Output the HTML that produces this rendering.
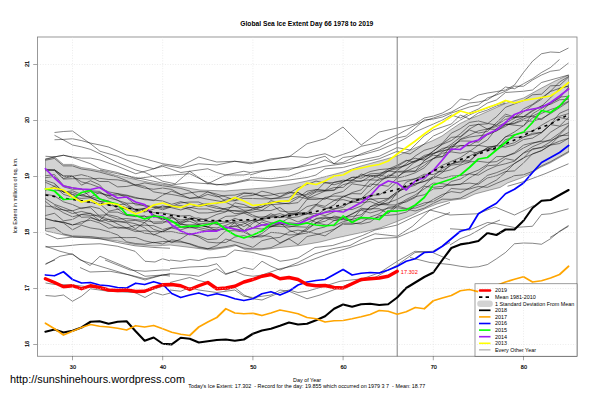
<!DOCTYPE html>
<html><head><meta charset="utf-8"><title>Global Sea Ice Extent</title>
<style>html,body{margin:0;padding:0;background:#fff}body{width:601px;height:400px;overflow:hidden}</style></head>
<body>
<svg width="601" height="400" viewBox="0 0 601 400" style="display:block">
<rect width="601" height="400" fill="#fff"/>
<clipPath id="c"><rect x="37.5" y="37.0" width="539.5" height="319.25"/></clipPath>
<polygon points="45.50,158.75 54.50,156.90 63.50,164.40 72.50,164.40 81.50,167.50 90.50,168.75 99.60,170.60 108.60,173.10 115.00,175.00 126.60,177.50 150.00,182.50 175.00,186.00 200.00,190.00 225.00,191.00 250.00,189.00 270.00,187.50 295.00,183.50 316.00,179.00 343.00,172.00 361.00,166.00 379.00,161.00 397.00,156.00 415.00,148.00 433.00,140.50 442.00,136.00 451.00,129.50 460.00,123.50 469.40,119.00 478.40,115.50 487.40,111.50 496.40,107.50 505.40,103.50 523.50,98.00 541.50,88.00 555.00,81.00 568.60,75.00 568.60,152.50 550.00,163.00 540.00,167.50 530.00,174.00 522.50,177.50 507.50,183.00 500.00,187.50 490.00,190.00 475.00,194.00 465.00,198.50 450.00,200.50 437.50,203.75 425.00,208.75 412.50,215.00 397.00,221.50 380.00,228.00 364.00,232.00 350.00,235.00 336.00,238.00 320.00,242.00 300.00,245.50 280.00,247.50 260.00,250.00 246.00,250.00 236.00,245.50 230.00,247.00 210.00,250.00 190.00,247.40 170.00,245.00 155.00,246.00 135.00,244.50 117.50,241.00 90.00,237.50 72.50,237.00 55.00,233.00 45.50,231.00" fill="#d3d3d3" stroke="#000" stroke-opacity="0.75" stroke-width="0.45"/>
<g clip-path="url(#c)" fill="none" stroke="#000" stroke-width="0.5" stroke-opacity="0.95" stroke-linejoin="round">
<polyline points="54.50,132.50 63.50,131.50 72.50,131.00 81.50,137.50 90.50,143.75 100.00,151.25"/>
<polyline points="54.50,135.25 63.50,140.00 72.50,145.00 81.50,146.90 90.50,149.40 100.00,153.75"/>
<polyline points="54.50,139.75 63.50,139.40 72.50,138.75 81.50,140.60 90.50,143.10 100.00,145.00"/>
<polyline points="45.50,156.25 54.50,156.90 63.50,155.25 72.50,156.90 81.50,158.10 90.50,158.10 100.00,160.00"/>
<polyline points="45.50,159.40 54.50,156.90 63.50,155.25 72.50,157.50 81.50,160.60 90.50,163.75 100.00,168.75"/>
<polyline points="100.00,145.00 108.50,147.00 126.50,155.00 135.75,156.25 153.75,161.25 162.75,163.75 180.75,166.25 198.75,157.00 216.75,162.00 234.75,161.25 250.00,162.50"/>
<polyline points="100.00,151.25 117.50,156.25 135.75,163.75 153.75,168.75 162.75,165.00 180.75,168.00 198.75,163.75 216.75,165.00 234.75,161.25 250.00,163.75"/>
<polyline points="100.00,153.75 117.50,162.50 135.75,170.00 145.00,172.50 162.75,181.25 175.00,183.75 189.75,171.25 207.75,168.75 216.75,172.50 225.75,175.00 243.75,171.25 250.00,172.50"/>
<polyline points="100.00,160.00 117.50,166.25 135.75,173.75 145.00,171.25 162.75,166.25 180.75,172.50 189.75,171.25 198.75,177.50 207.75,183.75 225.75,175.00 243.75,175.00 250.00,173.75"/>
<polyline points="100.00,168.75 117.50,172.50 135.75,178.75 153.75,176.25 171.75,175.00 189.75,173.75 207.75,182.50 216.75,185.00 234.75,182.50 250.00,178.75"/>
<polyline points="100.00,170.00 117.50,173.75 135.75,177.50 153.75,181.25 171.75,185.00 189.75,182.50 207.75,183.75 225.75,185.00 243.75,181.25 250.00,180.00"/>
<polyline points="250.00,162.50 262.00,161.25 271.00,158.75 289.00,157.00 307.00,143.75 325.00,138.75 343.00,127.00 361.25,145.00 379.25,132.00 397.25,128.00"/>
<polyline points="250.00,163.75 271.00,160.00 289.00,156.25 307.00,157.50 325.00,153.75 334.00,157.50 352.25,151.25 361.25,146.25 379.25,142.50 397.25,135.00"/>
<polyline points="250.00,172.50 271.00,169.50 289.00,170.00 307.00,163.75 316.00,158.75 325.00,156.25 334.00,163.75 343.00,162.50 361.25,153.75 379.25,147.50 397.25,137.50"/>
<polyline points="250.00,175.00 262.50,171.25 280.00,168.75 298.00,167.50 316.00,163.75 325.00,160.00 334.00,163.75 343.00,157.50 361.25,155.00 379.25,150.00 397.25,142.50"/>
<polyline points="250.00,177.50 271.00,178.75 289.00,176.25 307.00,170.00 325.00,166.25 343.00,163.75 361.25,160.00 379.25,156.25 397.25,147.50"/>
<polyline points="250.00,180.00 271.00,181.25 289.00,180.00 307.00,177.50 316.00,175.00 325.00,168.75 343.00,167.50 361.25,162.50 379.25,158.75 397.25,151.25"/>
<polyline points="397.20,128.00 406.20,126.00 415.20,124.00 424.20,118.00 433.40,116.00 442.40,113.00 451.40,108.00 460.40,99.00 469.40,100.00 478.40,95.00 487.40,93.00 496.40,91.60 505.40,90.00"/>
<polyline points="397.20,135.00 406.20,130.00 415.20,125.00 424.20,121.00 433.40,118.00 442.40,115.00 451.40,112.00 460.40,107.00 469.40,103.00 478.40,102.00 487.40,100.00 496.40,94.00 505.40,87.00"/>
<polyline points="397.20,138.00 406.20,136.00 415.20,128.00 424.20,120.00 433.40,119.00 442.40,117.00 451.40,113.00 460.40,110.00 469.40,107.00 478.40,105.00 487.40,98.00 496.40,95.00 505.40,91.20"/>
<polyline points="397.20,142.60 406.20,138.00 415.20,132.00 424.20,128.00 433.40,124.00 442.40,120.00 451.40,115.00 460.40,118.00 469.40,113.00 478.40,109.00 487.40,103.00 496.40,100.00 505.40,92.60"/>
<polyline points="397.20,147.60 410.00,150.00 424.20,136.00 433.40,130.00 442.40,127.00 451.40,124.00 460.40,115.00 469.40,119.00 478.40,113.00 487.40,110.00 496.40,106.00 505.40,103.00"/>
<polyline points="397.20,151.20 410.00,154.00 424.20,144.00 433.40,136.00 442.40,132.00 451.40,126.00 460.40,120.00 469.40,115.00 478.40,111.00 487.40,108.00 496.40,104.40 505.40,101.60"/>
<polyline points="505.50,90.00 514.50,85.00 523.50,72.50 532.50,61.25 541.50,53.75 550.50,52.00 559.50,52.50 568.50,48.00"/>
<polyline points="505.50,87.00 514.50,88.75 523.50,83.75 532.50,78.75 541.50,72.50 550.50,67.50 559.50,59.50"/>
<polyline points="505.50,91.25 514.50,86.25 523.50,86.25 532.50,80.00 541.50,75.00 550.50,71.25 559.50,70.00 568.50,63.00"/>
<polyline points="505.50,92.50 523.50,91.25 532.50,90.00 541.50,82.50 550.50,80.00 559.50,77.50 568.50,75.00"/>
<polyline points="45.50,233.75 57.50,238.75 72.50,237.00 100.00,238.75 117.50,242.50 135.00,245.75 155.00,247.50 170.00,248.25"/>
<polyline points="45.50,246.25 60.00,251.25 72.50,254.50 90.00,265.50 100.00,256.25 115.00,262.50 130.00,268.75 145.00,276.25 162.50,275.00 170.00,276.07"/>
<polyline points="45.50,247.00 62.50,246.25 80.00,244.50 100.00,243.75 117.50,246.25 135.00,251.25 145.00,261.25 155.00,262.00 162.50,258.75 170.00,260.89"/>
<polyline points="45.50,264.50 60.00,256.25 72.50,253.75 80.00,260.00 100.00,266.25 125.00,273.75 145.00,280.00 162.50,275.00 170.00,273.93"/>
<polyline points="45.50,283.00 55.00,284.50 72.50,285.00 90.50,287.00 108.50,289.50 126.50,290.00 144.75,292.00 162.75,286.25 170.00,285.72"/>
<polyline points="45.50,295.50 55.00,296.25 63.50,295.00 72.50,301.25 81.50,296.25 90.50,288.75 108.50,291.25 135.00,292.50 145.00,297.50 153.75,292.50 162.75,295.00 170.00,293.11"/>
<polyline points="45.50,263.75 55.00,260.00"/>
<polyline points="80.00,267.50 90.00,272.00 110.00,271.25 130.00,275.00 145.00,278.75 162.50,275.00 170.00,273.93"/>
<polyline points="105.00,260.00 130.00,270.00 145.00,271.25 162.50,270.00 170.00,270.00"/>
<polyline points="170.00,260.00 180.75,261.25 189.75,259.50 198.75,260.50 207.75,258.00 216.75,257.50 225.75,256.25 234.75,250.00 244.00,251.25 253.00,252.50 262.00,255.00 271.00,257.00 280.00,261.25 289.00,260.00 298.00,258.00"/>
<polyline points="170.00,268.75 189.75,267.00 207.75,266.25 216.75,263.75 225.75,273.75 234.75,271.25 244.00,267.50 253.00,269.50 262.00,261.25 271.00,266.25 280.00,270.00 289.00,266.25 298.00,262.50"/>
<polyline points="170.00,273.75 189.75,275.00 198.75,276.25 216.75,268.75 225.75,274.50 234.75,271.25 244.00,275.00 253.00,276.25 262.00,275.00 280.00,268.75 298.00,265.00"/>
<polyline points="170.00,282.50 189.75,277.50 198.75,280.50 207.75,282.50 216.75,287.50 225.75,290.00 234.75,287.50 244.00,295.00 253.00,298.75 262.00,300.00 271.00,296.25 280.00,292.50 289.00,290.00 298.00,292.50 307.00,291.25 320.00,287.50"/>
<polyline points="170.00,290.00 180.75,291.25 189.75,287.50 198.75,290.00 216.75,292.50 234.75,290.00 244.00,296.25 253.00,297.50 271.00,295.00 280.00,290.00 289.00,291.25 298.00,295.00 307.00,298.75 320.00,295.00"/>
<polyline points="298.00,258.00 315.00,247.50 332.50,245.50 350.00,240.00 362.50,235.50 375.00,230.00 397.25,225.00 412.50,217.50 430.00,210.00 450.00,202.50"/>
<polyline points="298.00,262.50 315.00,253.75 332.50,248.75 350.00,245.50 362.50,238.75 375.00,233.75 397.25,236.25 412.50,226.25 430.00,210.00 450.00,215.00"/>
<polyline points="298.00,265.00 325.00,255.00 350.00,247.50 375.00,238.75 397.25,237.50 415.00,230.00 432.50,220.00 450.00,212.50"/>
<polyline points="320.00,287.50 340.00,281.25 362.50,278.75 380.00,272.50 397.25,261.25 415.00,251.25 432.50,252.50 450.00,260.00"/>
<polyline points="320.00,295.00 350.00,283.75 375.00,277.50 397.25,265.00 415.00,252.50 432.50,251.25 450.00,242.50"/>
<polyline points="450.00,215.00 477.50,213.75 495.00,207.00 514.50,215.00 525.00,210.00 533.75,205.50"/>
<polyline points="507.50,186.25 525.00,181.25 545.00,173.75 568.50,163.75"/>
<polyline points="450.00,228.75 469.50,230.00 487.50,222.50 496.50,223.75 514.50,227.50 532.50,226.25 541.50,214.50 550.50,213.75 568.50,208.75"/>
<polyline points="550.00,237.50 568.50,226.25"/>
<polyline points="410.00,257.50 430.00,262.50 450.00,264.50 460.25,266.25 469.50,267.50 478.50,266.75 487.50,264.50 496.50,258.75 505.50,252.50 514.50,243.75 523.50,243.00 532.50,243.25 541.50,244.25 550.50,238.75 559.50,231.25 568.50,225.50"/>
<polyline points="450.00,245.00 460.00,238.75 470.00,235.00 487.50,225.00 500.00,220.00"/>
<polyline points="45.44,169.63 54.46,170.56 63.48,179.05 72.50,178.70 81.52,178.68 90.54,178.93 99.56,178.29 108.58,179.49 117.60,179.85 126.62,181.63 135.64,185.58 144.66,188.12 153.68,189.28 162.70,188.06 171.72,189.44 180.74,194.42 189.76,198.36 198.78,196.86 207.80,191.81 216.82,195.72 225.84,201.17 234.86,200.72 243.88,198.40 252.90,198.51 261.92,198.86 270.94,198.84 279.96,197.18 288.98,193.21 298.00,187.75 307.02,184.48 316.04,181.07 325.06,183.02 334.08,182.45 343.10,181.09 352.12,179.91 361.14,181.61 370.16,176.16 379.18,174.84 388.20,169.17 397.22,165.21 406.24,160.29 415.26,162.23 424.28,157.29 433.30,151.22 442.32,143.92 451.34,137.35 460.36,136.58 469.38,129.05 478.40,124.06 487.42,129.15 496.44,126.48 505.46,122.95 514.48,118.25 523.50,112.03 532.52,105.08 541.54,99.16 550.56,91.15 559.58,81.93 568.60,76.50"/>
<polyline points="45.44,160.25 54.46,158.41 63.48,165.88 72.50,165.90 81.52,169.00 90.54,170.26 99.56,172.09 108.58,174.59 117.60,177.06 126.62,180.65 135.64,185.23 144.66,182.86 153.68,184.52 162.70,185.78 171.72,187.04 180.74,188.42 189.76,191.09 198.78,197.43 207.80,199.24 216.82,200.72 225.84,202.36 234.86,206.29 243.88,207.30 252.90,207.46 261.92,207.41 270.94,200.67 279.96,203.10 288.98,203.81 298.00,202.67 307.02,193.54 316.04,189.79 325.06,190.37 334.08,182.27 343.10,180.16 352.12,180.99 361.14,173.98 370.16,176.80 379.18,175.25 388.20,171.09 397.22,168.49 406.24,165.43 415.26,160.45 424.28,158.75 433.30,151.17 442.32,144.36 451.34,140.62 460.36,133.79 469.38,125.70 478.40,124.45 487.42,123.83 496.44,116.76 505.46,107.34 514.48,103.94 523.50,100.63 532.52,94.77 541.54,94.18 550.56,85.83 559.58,85.44 568.60,77.07"/>
<polyline points="45.44,169.30 54.46,169.79 63.48,176.25 72.50,176.59 81.52,181.86 90.54,184.13 99.56,187.43 108.58,191.87 117.60,193.58 126.62,195.08 135.64,197.42 144.66,199.73 153.68,200.09 162.70,201.03 171.72,204.32 180.74,201.63 189.76,204.02 198.78,206.61 207.80,204.67 216.82,206.58 225.84,209.68 234.86,211.06 243.88,212.17 252.90,208.98 261.92,204.88 270.94,202.53 279.96,201.87 288.98,200.42 298.00,196.56 307.02,198.84 316.04,194.88 325.06,191.05 334.08,190.36 343.10,184.67 352.12,182.39 361.14,180.66 370.16,179.71 379.18,175.43 388.20,176.72 397.22,170.49 406.24,163.65 415.26,155.99 424.28,150.29 433.30,147.63 442.32,143.31 451.34,133.18 460.36,128.71 469.38,122.44 478.40,120.95 487.42,123.34 496.44,125.11 505.46,119.34 514.48,117.70 523.50,108.90 532.52,104.36 541.54,97.76 550.56,91.46 559.58,88.27 568.60,86.23"/>
<polyline points="45.44,177.73 54.46,176.37 63.48,186.82 72.50,189.29 81.52,189.08 90.54,197.02 99.56,192.42 108.58,195.65 117.60,194.99 126.62,195.71 135.64,198.22 144.66,198.84 153.68,200.60 162.70,195.20 171.72,191.07 180.74,194.58 189.76,192.90 198.78,191.59 207.80,191.81 216.82,194.15 225.84,196.87 234.86,200.31 243.88,196.21 252.90,195.44 261.92,191.20 270.94,193.26 279.96,196.65 288.98,191.72 298.00,194.77 307.02,194.92 316.04,191.25 325.06,182.24 334.08,184.80 343.10,182.01 352.12,177.35 361.14,176.22 370.16,175.30 379.18,177.47 388.20,171.12 397.22,172.04 406.24,172.14 415.26,171.41 424.28,165.34 433.30,158.25 442.32,156.74 451.34,150.77 460.36,145.71 469.38,145.62 478.40,140.19 487.42,128.96 496.44,125.05 505.46,116.34 514.48,117.61 523.50,116.57 532.52,110.32 541.54,105.84 550.56,104.29 559.58,99.79 568.60,99.19"/>
<polyline points="45.44,170.73 54.46,170.01 63.48,178.42 72.50,176.34 81.52,174.66 90.54,177.14 99.56,181.50 108.58,181.55 117.60,186.89 126.62,186.45 135.64,184.67 144.66,186.39 153.68,191.87 162.70,193.31 171.72,194.49 180.74,196.16 189.76,198.22 198.78,197.95 207.80,194.33 216.82,196.79 225.84,195.41 234.86,195.08 243.88,192.81 252.90,194.10 261.92,195.72 270.94,195.07 279.96,193.24 288.98,192.93 298.00,192.37 307.02,197.31 316.04,192.01 325.06,190.74 334.08,189.85 343.10,181.76 352.12,177.15 361.14,178.27 370.16,173.88 379.18,173.30 388.20,170.98 397.22,166.53 406.24,160.96 415.26,158.22 424.28,160.22 433.30,155.14 442.32,156.66 451.34,145.61 460.36,141.00 469.38,141.07 478.40,142.11 487.42,134.59 496.44,130.69 505.46,126.40 514.48,120.82 523.50,117.21 532.52,111.20 541.54,106.19 550.56,97.88 559.58,88.25 568.60,85.84"/>
<polyline points="54.46,169.73 63.48,175.93 72.50,175.73 81.52,185.15 90.54,180.74 99.56,184.87 108.58,195.02 117.60,193.61 126.62,197.63 135.64,204.91 144.66,204.92 153.68,207.18 162.70,209.79 171.72,206.70 180.74,207.37 189.76,209.41 198.78,212.98 207.80,212.92 216.82,211.84 225.84,208.25 234.86,206.47 243.88,210.22 252.90,210.20 261.92,206.88 270.94,203.74 279.96,211.04 288.98,212.03 298.00,210.86 307.02,199.45 316.04,199.45 325.06,198.15 334.08,200.06 343.10,197.29 352.12,192.55 361.14,189.85 370.16,179.91 379.18,180.24 388.20,177.49 397.22,171.51 406.24,170.95 415.26,171.02 424.28,160.63 433.30,153.83 442.32,149.95 451.34,144.18 460.36,137.23 469.38,129.94 478.40,133.07 487.42,131.40 496.44,122.65 505.46,114.18 514.48,116.91 523.50,116.50 532.52,116.09 541.54,111.68 550.56,102.73 559.58,98.29 568.60,87.00"/>
<polyline points="45.44,180.50 54.46,183.40 63.48,191.99 72.50,192.57 81.52,195.90 90.54,196.87 99.56,198.80 108.58,201.01 117.60,204.81 126.62,203.91 135.64,209.95 144.66,209.05 153.68,212.67 162.70,212.88 171.72,214.43 180.74,216.03 189.76,215.50 198.78,219.86 207.80,218.48 216.82,214.38 225.84,211.97 234.86,202.78 243.88,204.62 252.90,208.62 261.92,210.41 270.94,204.71 279.96,204.02 288.98,203.23 298.00,198.03 307.02,191.16 316.04,189.58 325.06,190.44 334.08,187.55 343.10,187.43 352.12,179.98 361.14,175.56 370.16,171.55 379.18,169.61 388.20,168.81 397.22,167.62 406.24,165.03 415.26,161.25 424.28,155.44 433.30,153.24 442.32,150.83 451.34,149.13 460.36,139.14 469.38,135.21 478.40,130.87 487.42,129.03 496.44,129.42 505.46,124.49 514.48,123.02 523.50,118.81 532.52,116.00 541.54,119.64 550.56,112.56 559.58,105.77 568.60,101.19"/>
<polyline points="54.46,184.20 63.48,191.97 72.50,194.75 81.52,195.41 90.54,191.54 99.56,193.24 108.58,195.77 117.60,200.39 126.62,203.20 135.64,203.42 144.66,206.07 153.68,207.29 162.70,206.91 171.72,206.32 180.74,205.53 189.76,207.97 198.78,204.98 207.80,203.44 216.82,203.67 225.84,199.27 234.86,197.98 243.88,193.31 252.90,193.11 261.92,196.46 270.94,198.82 279.96,198.26 288.98,197.16 298.00,192.47 307.02,197.91 316.04,198.05 325.06,199.26 334.08,193.90 343.10,191.45 352.12,183.83 361.14,185.15 370.16,186.53 379.18,178.76 388.20,177.33 397.22,177.69 406.24,169.25 415.26,161.53 424.28,156.86 433.30,153.96 442.32,148.41 451.34,146.65 460.36,145.69 469.38,145.72 478.40,145.34 487.42,146.82 496.44,146.30 505.46,136.97 514.48,131.93 523.50,125.64 532.52,117.98 541.54,113.38 550.56,109.54 559.58,106.74 568.60,97.41"/>
<polyline points="45.44,175.79 54.46,174.55 63.48,185.51 72.50,187.63 81.52,189.19 90.54,190.81 99.56,191.36 108.58,197.96 117.60,200.26 126.62,205.76 135.64,209.34 144.66,208.37 153.68,205.82 162.70,208.39 171.72,206.36 180.74,202.89 189.76,202.02 198.78,202.03 207.80,206.20 216.82,208.34 225.84,208.94 234.86,213.70 243.88,213.02 252.90,216.88 261.92,217.02 270.94,215.73 279.96,213.57 288.98,216.70 298.00,212.87 307.02,206.56 316.04,204.42 325.06,206.37 334.08,200.59 343.10,199.60 352.12,201.92 361.14,202.86 370.16,201.51 379.18,205.11 388.20,199.59 397.22,193.69 406.24,182.15 415.26,178.72 424.28,176.78 433.30,170.75 442.32,165.28 451.34,161.37 460.36,157.68 469.38,151.55 478.40,145.19 487.42,139.94 496.44,128.40 505.46,123.92 514.48,125.23 523.50,126.07 532.52,113.75 541.54,108.47 550.56,103.53 559.58,97.14 568.60,96.20"/>
<polyline points="45.44,182.30 54.46,186.29 63.48,192.10 72.50,190.77 81.52,194.43 90.54,197.72 99.56,201.70 108.58,201.24 117.60,208.90 126.62,215.21 135.64,215.73 144.66,216.85 153.68,215.82 162.70,220.08 171.72,217.31 180.74,220.03 189.76,219.03 198.78,217.86 207.80,220.91 216.82,224.34 225.84,222.61 234.86,218.33 243.88,221.46 252.90,220.44 261.92,220.07 270.94,222.75 279.96,223.06 288.98,218.07 298.00,222.03 307.02,217.55 316.04,215.77 325.06,209.17 334.08,205.00 343.10,196.07 352.12,198.59 361.14,198.70 370.16,190.63 379.18,182.69 388.20,175.04 397.22,176.62 406.24,171.28 415.26,167.30 424.28,162.52 433.30,158.72 442.32,151.72 451.34,147.59 460.36,139.57 469.38,137.07 478.40,135.81 487.42,134.65 496.44,131.06 505.46,124.99 514.48,123.62 523.50,120.22 532.52,121.27 541.54,118.58 550.56,113.60 559.58,107.70 568.60,101.73"/>
<polyline points="45.44,194.20 54.46,195.91 63.48,201.84 72.50,204.54 81.52,208.59 90.54,206.35 99.56,208.53 108.58,216.00 117.60,219.10 126.62,218.56 135.64,219.67 144.66,220.54 153.68,222.05 162.70,221.83 171.72,222.10 180.74,222.35 189.76,221.31 198.78,224.76 207.80,227.06 216.82,221.00 225.84,216.33 234.86,215.94 243.88,212.87 252.90,212.01 261.92,210.66 270.94,210.51 279.96,207.48 288.98,213.94 298.00,213.49 307.02,212.49 316.04,204.67 325.06,197.44 334.08,196.01 343.10,196.37 352.12,193.58 361.14,193.92 370.16,183.95 379.18,185.07 388.20,186.26 397.22,178.19 406.24,175.96 415.26,172.79 424.28,167.82 433.30,158.90 442.32,153.24 451.34,151.91 460.36,153.18 469.38,150.93 478.40,153.66 487.42,147.97 496.44,150.39 505.46,139.64 514.48,137.50 523.50,136.80 532.52,134.53 541.54,132.28 550.56,124.37 559.58,113.30 568.60,109.39"/>
<polyline points="54.46,189.97 63.48,191.34 72.50,194.12 81.52,201.26 90.54,202.48 99.56,203.69 108.58,211.21 117.60,209.28 126.62,207.57 135.64,210.10 144.66,212.09 153.68,209.10 162.70,205.82 171.72,207.77 180.74,209.96 189.76,207.37 198.78,208.96 207.80,208.97 216.82,211.35 225.84,211.28 234.86,210.53 243.88,211.07 252.90,215.09 261.92,218.95 270.94,216.38 279.96,217.50 288.98,213.55 298.00,212.68 307.02,213.48 316.04,216.14 325.06,211.95 334.08,209.07 343.10,207.34 352.12,200.26 361.14,198.75 370.16,195.20 379.18,195.05 388.20,189.44 397.22,181.77 406.24,180.24 415.26,178.81 424.28,174.26 433.30,174.52 442.32,170.54 451.34,165.16 460.36,164.00 469.38,156.14 478.40,151.65 487.42,149.55 496.44,149.79 505.46,145.16 514.48,142.71 523.50,137.25 532.52,133.24 541.54,132.54 550.56,124.61 559.58,126.07 568.60,117.31"/>
<polyline points="45.44,190.44 54.46,186.30 63.48,194.38 72.50,197.13 81.52,198.41 90.54,197.79 99.56,201.16 108.58,204.99 117.60,206.62 126.62,209.69 135.64,211.94 144.66,208.36 153.68,214.75 162.70,219.11 171.72,215.97 180.74,224.60 189.76,224.83 198.78,224.60 207.80,226.94 216.82,230.86 225.84,227.10 234.86,229.60 243.88,230.82 252.90,227.89 261.92,229.07 270.94,226.50 279.96,226.46 288.98,227.14 298.00,225.00 307.02,218.07 316.04,222.53 325.06,224.81 334.08,225.88 343.10,221.65 352.12,219.48 361.14,216.86 370.16,206.80 379.18,202.26 388.20,198.67 397.22,191.76 406.24,187.99 415.26,185.19 424.28,179.19 433.30,170.61 442.32,171.90 451.34,169.70 460.36,165.20 469.38,162.21 478.40,152.31 487.42,149.35 496.44,145.70 505.46,147.22 514.48,144.80 523.50,139.55 532.52,138.11 541.54,132.82 550.56,124.56 559.58,117.44 568.60,119.59"/>
<polyline points="45.44,198.62 54.46,204.36 63.48,207.53 72.50,211.04 81.52,217.25 90.54,216.93 99.56,221.17 108.58,219.34 117.60,220.99 126.62,222.02 135.64,223.75 144.66,227.87 153.68,235.06 162.70,230.99 171.72,228.08 180.74,229.89 189.76,226.88 198.78,229.36 207.80,231.41 216.82,229.33 225.84,229.51 234.86,222.51 243.88,226.59 252.90,221.72 261.92,219.59 270.94,217.54 279.96,215.76 288.98,217.87 298.00,216.80 307.02,213.70 316.04,213.51 325.06,215.62 334.08,211.90 343.10,209.58 352.12,209.55 361.14,206.05 370.16,198.17 379.18,202.64 388.20,204.33 397.22,192.44 406.24,187.27 415.26,183.64 424.28,181.50 433.30,178.51 442.32,172.55 451.34,164.13 460.36,160.85 469.38,160.59 478.40,153.44 487.42,147.62 496.44,145.54 505.46,136.74 514.48,134.87 523.50,132.54 532.52,131.13 541.54,125.26 550.56,120.05 559.58,116.24 568.60,113.55"/>
<polyline points="45.44,206.07 54.46,207.12 63.48,212.77 72.50,216.79 81.52,214.38 90.54,213.26 99.56,217.18 108.58,221.60 117.60,221.59 126.62,222.84 135.64,228.80 144.66,222.48 153.68,215.13 162.70,218.83 171.72,221.16 180.74,224.23 189.76,219.23 198.78,221.41 207.80,221.74 216.82,221.02 225.84,221.84 234.86,223.17 243.88,231.18 252.90,223.11 261.92,218.61 270.94,213.69 279.96,217.78 288.98,214.41 298.00,214.39 307.02,214.29 316.04,205.49 325.06,208.10 334.08,209.02 343.10,205.51 352.12,202.22 361.14,199.55 370.16,199.52 379.18,198.55 388.20,198.37 397.22,191.92 406.24,186.46 415.26,183.99 424.28,181.43 433.30,176.60 442.32,178.37 451.34,176.01 460.36,175.70 469.38,173.86 478.40,175.14 487.42,169.90 496.44,165.96 505.46,163.76 514.48,161.23 523.50,152.90 532.52,146.72 541.54,143.01 550.56,139.46 559.58,133.12 568.60,125.23"/>
<polyline points="45.44,201.41 54.46,208.71 63.48,209.80 72.50,213.60 81.52,211.44 90.54,213.61 99.56,220.41 108.58,212.11 117.60,212.13 126.62,215.44 135.64,216.65 144.66,215.69 153.68,223.56 162.70,223.12 171.72,217.80 180.74,222.01 189.76,218.01 198.78,223.81 207.80,223.23 216.82,224.04 225.84,227.68 234.86,226.43 243.88,223.82 252.90,219.91 261.92,224.90 270.94,227.02 279.96,223.72 288.98,226.12 298.00,226.79 307.02,227.20 316.04,218.49 325.06,216.75 334.08,218.42 343.10,219.03 352.12,219.45 361.14,209.37 370.16,208.74 379.18,208.69 388.20,213.57 397.22,206.20 406.24,200.87 415.26,196.71 424.28,194.77 433.30,188.88 442.32,188.43 451.34,181.46 460.36,179.07 469.38,173.59 478.40,170.12 487.42,164.52 496.44,156.63 505.46,156.38 514.48,153.50 523.50,148.03 532.52,143.54 541.54,140.64 550.56,132.24 559.58,126.65 568.60,123.20"/>
<polyline points="54.46,205.30 63.48,210.13 72.50,210.88 81.52,207.76 90.54,207.72 99.56,216.18 108.58,219.38 117.60,224.01 126.62,228.15 135.64,225.15 144.66,225.21 153.68,225.70 162.70,229.52 171.72,227.06 180.74,227.39 189.76,227.77 198.78,227.45 207.80,229.40 216.82,230.58 225.84,228.15 234.86,225.60 243.88,229.98 252.90,236.78 261.92,236.95 270.94,232.39 279.96,233.05 288.98,235.05 298.00,234.48 307.02,233.00 316.04,229.11 325.06,226.92 334.08,220.51 343.10,219.62 352.12,221.08 361.14,218.61 370.16,219.19 379.18,217.15 388.20,212.38 397.22,203.57 406.24,201.99 415.26,197.53 424.28,186.31 433.30,187.35 442.32,186.33 451.34,185.09 460.36,184.46 469.38,178.00 478.40,172.82 487.42,165.81 496.44,164.93 505.46,158.63 514.48,160.36 523.50,153.13 532.52,149.60 541.54,147.23 550.56,141.80 559.58,134.79 568.60,125.94"/>
<polyline points="45.44,218.46 54.46,221.18 63.48,222.45 72.50,224.68 81.52,223.85 90.54,217.81 99.56,220.51 108.58,223.75 117.60,228.24 126.62,227.62 135.64,229.91 144.66,233.12 153.68,234.34 162.70,237.74 171.72,242.72 180.74,239.04 189.76,233.19 198.78,237.05 207.80,242.08 216.82,242.86 225.84,242.46 234.86,236.95 243.88,235.67 252.90,238.02 261.92,233.60 270.94,226.51 279.96,222.78 288.98,230.09 298.00,233.87 307.02,228.29 316.04,223.21 325.06,221.24 334.08,216.06 343.10,217.78 352.12,214.37 361.14,208.15 370.16,209.95 379.18,205.21 388.20,202.71 397.22,199.37 406.24,194.50 415.26,191.70 424.28,185.45 433.30,176.78 442.32,168.36 451.34,163.78 460.36,161.94 469.38,161.90 478.40,161.31 487.42,162.38 496.44,161.61 505.46,156.54 514.48,152.68 523.50,145.07 532.52,142.79 541.54,141.44 550.56,140.68 559.58,136.72 568.60,132.55"/>
<polyline points="45.44,218.82 54.46,220.99 63.48,222.06 72.50,225.14 81.52,221.73 90.54,220.21 99.56,222.94 108.58,228.23 117.60,227.03 126.62,228.48 135.64,231.65 144.66,230.71 153.68,231.67 162.70,231.93 171.72,227.19 180.74,223.69 189.76,226.35 198.78,225.15 207.80,227.10 216.82,227.94 225.84,225.27 234.86,221.66 243.88,222.56 252.90,228.17 261.92,221.87 270.94,225.24 279.96,224.94 288.98,222.68 298.00,223.71 307.02,222.71 316.04,219.12 325.06,218.05 334.08,217.38 343.10,217.66 352.12,216.54 361.14,214.80 370.16,206.75 379.18,204.45 388.20,204.91 397.22,204.95 406.24,199.53 415.26,194.88 424.28,188.85 433.30,183.08 442.32,183.72 451.34,185.10 460.36,184.02 469.38,183.08 478.40,184.30 487.42,177.98 496.44,175.75 505.46,171.55 514.48,170.89 523.50,162.99 532.52,153.80 541.54,150.52 550.56,144.82 559.58,141.20 568.60,138.33"/>
<polyline points="45.44,215.55 54.46,213.27 63.48,220.81 72.50,219.45 81.52,214.59 90.54,215.38 99.56,215.20 108.58,214.80 117.60,216.79 126.62,221.03 135.64,220.39 144.66,222.67 153.68,229.41 162.70,231.92 171.72,231.63 180.74,233.41 189.76,234.45 198.78,235.92 207.80,239.60 216.82,238.84 225.84,230.78 234.86,230.78 243.88,232.15 252.90,236.62 261.92,235.68 270.94,236.47 279.96,242.95 288.98,238.50 298.00,234.56 307.02,229.90 316.04,222.84 325.06,218.06 334.08,220.30 343.10,218.86 352.12,213.59 361.14,210.09 370.16,212.98 379.18,210.53 388.20,208.27 397.22,207.72 406.24,209.15 415.26,210.97 424.28,208.11 433.30,203.36 442.32,199.15 451.34,199.32 460.36,198.12 469.38,193.36 478.40,188.88 487.42,184.72 496.44,180.06 505.46,172.47 514.48,163.52 523.50,158.21 532.52,148.70 541.54,147.66 550.56,144.78 559.58,135.67 568.60,135.25"/>
<polyline points="54.46,220.30 63.48,222.99 72.50,229.79 81.52,225.29 90.54,227.96 99.56,229.27 108.58,231.66 117.60,234.93 126.62,241.82 135.64,243.55 144.66,244.22 153.68,242.32 162.70,244.06 171.72,239.83 180.74,241.17 189.76,244.14 198.78,247.54 207.80,248.71 216.82,247.98 225.84,246.62 234.86,244.78 243.88,248.05 252.90,249.00 261.92,248.76 270.94,247.63 279.96,243.48 288.98,238.85 298.00,244.70 307.02,236.50 316.04,234.75 325.06,232.09 334.08,229.21 343.10,224.31 352.12,224.25 361.14,222.37 370.16,217.07 379.18,213.88 388.20,207.32 397.22,206.08 406.24,208.43 415.26,208.13 424.28,205.00 433.30,199.34 442.32,194.53 451.34,191.60 460.36,192.85 469.38,188.09 478.40,182.91 487.42,175.40 496.44,172.69 505.46,168.96 514.48,163.44 523.50,157.78 532.52,154.12 541.54,150.73 550.56,145.12 559.58,143.54 568.60,138.34"/>
<polyline points="45.44,228.61 54.46,227.64 63.48,233.94 72.50,236.00 81.52,236.26 90.54,236.57 99.56,237.72 108.58,238.14 117.60,237.46 126.62,237.62 135.64,237.50 144.66,240.82 153.68,242.74 162.70,241.44 171.72,241.70 180.74,242.10 189.76,243.61 198.78,246.63 207.80,248.71 216.82,245.60 225.84,239.05 234.86,241.77 243.88,244.12 252.90,247.37 261.92,240.72 270.94,238.44 279.96,237.32 288.98,231.93 298.00,230.13 307.02,231.70 316.04,233.58 325.06,235.93 334.08,229.80 343.10,223.09 352.12,223.07 361.14,223.96 370.16,221.99 379.18,215.49 388.20,215.28 397.22,214.49 406.24,212.10 415.26,206.24 424.28,202.84 433.30,201.54 442.32,196.42 451.34,188.46 460.36,189.22 469.38,189.06 478.40,186.44 487.42,187.34 496.44,183.38 505.46,179.63 514.48,175.66 523.50,174.80 532.52,171.36 541.54,165.81 550.56,161.68 559.58,156.59 568.60,151.50"/>
</g>
<line x1="397.22" y1="37.0" x2="397.22" y2="356.25" stroke="#8c8c8c" stroke-width="1.1"/>
<polyline points="45.44,331.75 54.46,329.50 63.48,332.50 72.50,330.75 81.52,327.50 90.54,321.75 99.56,321.25 108.58,323.75 117.60,321.75 126.62,321.25 135.64,331.25 144.66,340.75 153.68,337.50 162.70,343.75 171.72,344.40 180.74,337.75 189.76,338.75 198.78,342.50 207.80,341.25 216.82,340.00 225.84,339.50 234.86,340.75 243.88,339.50 252.90,333.75 261.92,330.50 270.94,328.75 279.96,325.75 288.98,322.50 298.00,324.50 307.02,323.75 316.04,320.25 325.06,316.25 334.08,308.75 343.10,304.50 352.12,306.75 361.14,304.25 370.16,303.75 379.18,305.00 388.20,304.25 397.22,297.50 406.24,288.00 415.26,282.50 424.28,277.00 433.30,272.50 442.32,260.00 451.34,248.00 460.36,244.40 469.38,243.00 478.40,241.00 487.42,233.00 496.44,235.00 505.46,229.50 514.48,229.50 523.50,220.75 532.52,208.00 541.54,200.75 550.56,200.00 559.58,195.00 568.60,190.00" fill="none" stroke="#000" stroke-width="2.1" stroke-linejoin="round" stroke-linecap="round"/>
<polyline points="45.44,323.25 54.46,328.75 63.48,335.00 72.50,331.25 81.52,327.50 90.54,324.50 99.56,326.25 108.58,327.00 117.60,328.25 126.62,330.00 135.64,325.75 144.66,327.00 153.68,325.50 162.70,328.75 171.72,332.25 180.74,334.25 189.76,335.50 198.78,327.00 207.80,322.00 216.82,317.50 225.84,308.75 234.86,313.00 243.88,313.75 252.90,313.25 261.92,315.50 270.94,313.00 279.96,310.00 288.98,311.75 298.00,313.75 307.02,317.50 316.04,318.75 325.06,322.00 334.08,320.75 343.10,320.50 352.12,318.75 361.14,316.75 370.16,314.50 379.18,310.50 388.20,311.25 397.22,314.25 406.24,311.75 415.26,307.50 424.28,308.75 433.30,300.75 442.32,298.00 451.34,295.50 460.36,290.75 469.38,289.50 478.40,291.75 487.42,288.75 496.44,285.50 505.46,282.00 514.48,279.25 523.50,276.75 532.52,282.00 541.54,280.75 550.56,278.00 559.58,274.50 568.60,266.25" fill="none" stroke="#ffa500" stroke-width="1.75" stroke-linejoin="round" stroke-linecap="round"/>
<polyline points="45.44,275.00 54.46,275.75 63.48,271.75 72.50,279.50 81.52,283.00 90.54,282.50 99.56,285.00 108.58,285.75 117.60,287.50 126.62,288.00 135.64,283.25 144.66,284.50 153.68,281.75 162.70,284.25 171.72,293.50 180.74,297.50 189.76,295.00 198.78,293.00 207.80,295.75 216.82,293.75 225.84,295.75 234.86,298.75 243.88,300.50 252.90,298.75 261.92,293.75 270.94,291.75 279.96,295.00 288.98,291.25 298.00,285.00 307.02,282.00 316.04,280.50 325.06,279.50 334.08,274.50 343.10,269.50 352.12,275.00 361.14,273.25 370.16,272.50 379.18,273.00 388.20,270.00 397.22,266.25 406.24,261.25 415.26,258.75 424.28,252.50 433.30,252.00 442.32,246.25 451.34,238.75 460.36,231.25 469.38,228.75 478.40,213.75 487.42,208.25 496.44,203.25 505.46,193.75 514.48,189.25 523.50,183.00 532.52,172.50 541.54,162.50 550.56,157.50 559.58,152.50 568.60,145.50" fill="none" stroke="#0000ff" stroke-width="1.75" stroke-linejoin="round" stroke-linecap="round"/>
<polyline points="45.44,168.75 54.46,178.00 63.48,186.00 72.50,188.00 81.52,189.00 90.54,189.50 99.56,187.50 108.58,193.00 117.60,198.00 126.62,197.00 135.64,202.00 144.66,204.50 153.68,217.00 162.70,216.00 171.72,225.00 180.74,231.00 189.76,234.50 198.78,232.50 207.80,231.00 216.82,231.00 225.84,227.00 234.86,229.00 243.88,231.00 252.90,228.00 261.92,225.00 270.94,224.00 279.96,222.50 288.98,224.50 298.00,224.00 307.02,220.00 316.04,215.00 325.06,212.50 334.08,211.00 343.10,212.00 352.12,207.50 361.14,202.50 370.16,196.00 379.18,186.00 388.20,181.00 397.22,183.00 406.24,190.00 415.26,181.00 424.28,177.50 433.30,170.50 442.32,160.00 451.34,149.00 460.36,149.50 469.38,142.50 478.40,140.00 487.42,134.00 496.44,130.00 505.46,122.50 514.48,114.50 523.50,111.00 532.52,109.00 541.54,107.50 550.56,102.50 559.58,96.00 568.60,89.00" fill="none" stroke="#a020f0" stroke-width="1.75" stroke-linejoin="round" stroke-linecap="round"/>
<polyline points="45.44,195.00 54.46,196.50 63.48,198.00 72.50,199.50 81.52,200.83 90.54,202.17 99.56,203.50 108.58,205.00 117.60,206.50 126.62,208.00 135.64,209.50 144.66,211.00 153.68,212.50 162.70,214.00 171.72,215.50 180.74,216.50 189.76,218.25 198.78,220.00 207.80,220.33 216.82,220.67 225.84,221.00 234.86,220.50 243.88,220.00 252.90,219.50 261.92,218.67 270.94,217.83 279.96,217.00 288.98,215.75 298.00,214.50 307.02,213.00 316.04,211.50 325.06,209.17 334.08,206.83 343.10,204.50 352.12,201.67 361.14,198.83 370.16,196.00 379.18,193.83 388.20,191.67 397.22,189.50 406.24,186.00 415.26,181.50 424.28,176.25 433.30,171.00 442.32,167.00 451.34,163.00 460.36,159.50 469.38,156.75 478.40,154.00 487.42,150.75 496.44,147.50 505.46,143.75 514.48,140.00 523.50,135.50 532.52,131.00 541.54,127.50 550.56,124.00 559.58,119.25 568.60,114.50" fill="none" stroke="#000" stroke-width="1.6" stroke-dasharray="3.0 4.0"/>
<polyline points="45.44,189.00 54.46,191.00 63.48,199.50 72.50,199.00 81.52,192.50 90.54,190.50 99.56,199.00 108.58,202.00 117.60,204.00 126.62,214.50 135.64,215.50 144.66,219.00 153.68,216.00 162.70,217.00 171.72,221.00 180.74,227.00 189.76,226.00 198.78,226.00 207.80,224.50 216.82,222.50 225.84,229.50 234.86,235.00 243.88,238.00 252.90,235.00 261.92,231.00 270.94,224.00 279.96,220.50 288.98,224.00 298.00,225.00 307.02,223.00 316.04,225.00 325.06,226.00 334.08,225.00 343.10,216.00 352.12,222.50 361.14,217.50 370.16,218.00 379.18,219.50 388.20,211.00 397.22,211.00 406.24,210.00 415.26,205.00 424.28,197.50 433.30,185.00 442.32,182.00 451.34,179.00 460.36,175.00 469.38,167.50 478.40,159.00 487.42,157.50 496.44,150.00 505.46,142.50 514.48,135.00 523.50,132.00 532.52,122.50 541.54,110.50 550.56,112.50 559.58,106.00 568.60,96.00" fill="none" stroke="#00ff00" stroke-width="1.75" stroke-linejoin="round" stroke-linecap="round"/>
<polyline points="45.44,189.00 54.46,188.00 63.48,190.00 72.50,197.00 81.52,202.00 90.54,200.00 99.56,205.00 108.58,203.00 117.60,204.50 126.62,209.00 135.64,214.00 144.66,210.50 153.68,205.00 162.70,203.00 171.72,206.00 180.74,207.50 189.76,204.00 198.78,206.00 207.80,204.00 216.82,203.00 225.84,202.00 234.86,197.50 243.88,201.00 252.90,205.50 261.92,204.50 270.94,203.00 279.96,201.00 288.98,201.00 298.00,190.00 307.02,183.00 316.04,184.50 325.06,181.00 334.08,176.00 343.10,175.00 352.12,170.00 361.14,168.00 370.16,166.00 379.18,164.50 388.20,161.00 397.22,154.00 406.24,147.50 415.26,141.00 424.28,134.00 433.30,127.50 442.32,122.50 451.34,116.50 460.36,111.00 469.38,113.50 478.40,111.00 487.42,107.50 496.44,104.50 505.46,100.50 514.48,103.00 523.50,100.50 532.52,99.00 541.54,97.50 550.56,96.00 559.58,90.00 568.60,82.50" fill="none" stroke="#ffff00" stroke-width="1.75" stroke-linejoin="round" stroke-linecap="round"/>
<polyline points="45.44,278.75 54.46,282.50 63.48,286.75 72.50,285.75 81.52,288.75 90.54,285.75 99.56,287.50 108.58,290.00 117.60,290.50 126.62,290.00 135.64,291.50 144.66,291.25 153.68,287.75 162.70,284.75 171.72,284.50 180.74,285.75 189.76,289.50 198.78,285.75 207.80,282.50 216.82,288.75 225.84,288.00 234.86,286.25 243.88,282.00 252.90,279.50 261.92,276.25 270.94,274.50 279.96,278.75 288.98,277.50 298.00,279.50 307.02,284.50 316.04,285.75 325.06,285.50 334.08,287.50 343.10,288.00 352.12,283.75 361.14,279.50 370.16,278.75 379.18,278.00 388.20,276.25 397.22,271.25" fill="none" stroke="#ff0000" stroke-width="3.4" stroke-linejoin="round" stroke-linecap="round"/>
<rect x="37.5" y="37.0" width="539.5" height="319.25" fill="none" stroke="#000" stroke-opacity="0.5" stroke-width="0.8"/>
<g stroke="#000" stroke-opacity="0.5" stroke-width="0.7"><line x1="72.50" y1="356.25" x2="72.50" y2="360.25"/><line x1="162.70" y1="356.25" x2="162.70" y2="360.25"/><line x1="252.90" y1="356.25" x2="252.90" y2="360.25"/><line x1="343.10" y1="356.25" x2="343.10" y2="360.25"/><line x1="433.30" y1="356.25" x2="433.30" y2="360.25"/><line x1="523.50" y1="356.25" x2="523.50" y2="360.25"/><line x1="37.5" y1="344.50" x2="33.2" y2="344.50"/><line x1="37.5" y1="288.50" x2="33.2" y2="288.50"/><line x1="37.5" y1="232.50" x2="33.2" y2="232.50"/><line x1="37.5" y1="176.50" x2="33.2" y2="176.50"/><line x1="37.5" y1="120.50" x2="33.2" y2="120.50"/><line x1="37.5" y1="64.50" x2="33.2" y2="64.50"/></g>
<text x="72.90" y="368.6" font-family="Liberation Sans, Arial, sans-serif" font-size="5.5" text-anchor="middle" fill="#000" stroke="#000" stroke-width="0.18">30</text>
<text x="163.10" y="368.6" font-family="Liberation Sans, Arial, sans-serif" font-size="5.5" text-anchor="middle" fill="#000" stroke="#000" stroke-width="0.18">40</text>
<text x="253.30" y="368.6" font-family="Liberation Sans, Arial, sans-serif" font-size="5.5" text-anchor="middle" fill="#000" stroke="#000" stroke-width="0.18">50</text>
<text x="343.50" y="368.6" font-family="Liberation Sans, Arial, sans-serif" font-size="5.5" text-anchor="middle" fill="#000" stroke="#000" stroke-width="0.18">60</text>
<text x="433.70" y="368.6" font-family="Liberation Sans, Arial, sans-serif" font-size="5.5" text-anchor="middle" fill="#000" stroke="#000" stroke-width="0.18">70</text>
<text x="523.90" y="368.6" font-family="Liberation Sans, Arial, sans-serif" font-size="5.5" text-anchor="middle" fill="#000" stroke="#000" stroke-width="0.18">80</text>
<text transform="translate(29.3,343.90) rotate(-90)" font-family="Liberation Sans, Arial, sans-serif" font-size="5.7" text-anchor="middle" fill="#000" stroke="#000" stroke-width="0.18">16</text>
<text transform="translate(29.3,287.90) rotate(-90)" font-family="Liberation Sans, Arial, sans-serif" font-size="5.7" text-anchor="middle" fill="#000" stroke="#000" stroke-width="0.18">17</text>
<text transform="translate(29.3,231.90) rotate(-90)" font-family="Liberation Sans, Arial, sans-serif" font-size="5.7" text-anchor="middle" fill="#000" stroke="#000" stroke-width="0.18">18</text>
<text transform="translate(29.3,175.90) rotate(-90)" font-family="Liberation Sans, Arial, sans-serif" font-size="5.7" text-anchor="middle" fill="#000" stroke="#000" stroke-width="0.18">19</text>
<text transform="translate(29.3,119.90) rotate(-90)" font-family="Liberation Sans, Arial, sans-serif" font-size="5.7" text-anchor="middle" fill="#000" stroke="#000" stroke-width="0.18">20</text>
<text transform="translate(29.3,63.90) rotate(-90)" font-family="Liberation Sans, Arial, sans-serif" font-size="5.7" text-anchor="middle" fill="#000" stroke="#000" stroke-width="0.18">21</text>
<text x="306.8" y="26.4" font-family="Liberation Sans, Arial, sans-serif" font-size="6.7" font-weight="bold" text-anchor="middle" fill="#000">Global Sea Ice Extent Day 66 1978 to 2019</text>
<text x="307" y="381.9" font-family="Liberation Sans, Arial, sans-serif" font-size="5.4" text-anchor="middle" fill="#000">Day of Year</text>
<text x="306.8" y="388.4" font-family="Liberation Sans, Arial, sans-serif" font-size="5.4" text-anchor="middle" fill="#000" style="white-space:pre">Today's Ice Extent: 17.302  - Record for the day: 19.855 which occurred on 1979 3 7  - Mean: 18.77</text>
<text transform="translate(16.5,195.5) rotate(-90)" font-family="Liberation Sans, Arial, sans-serif" font-size="5.55" text-anchor="middle" fill="#000">Ice Extent in millions of sq. km.</text>
<text x="10" y="382.6" font-family="Liberation Sans, Arial, sans-serif" font-size="10.4" textLength="175" lengthAdjust="spacingAndGlyphs" fill="#000">http://sunshinehours.wordpress.com</text>
<text x="400.8" y="273.7" font-family="Liberation Sans, Arial, sans-serif" font-size="5.55" fill="#ff0000">17.302</text>
<rect x="475.0" y="283.75" width="102.0" height="72.5" fill="#fff" stroke="#000" stroke-opacity="0.55" stroke-width="0.7"/>
<line x1="480.0" y1="290.50" x2="490.0" y2="290.50" stroke="#ff0000" stroke-width="2.5" stroke-linecap="round"/>
<text x="495" y="292.40" font-family="Liberation Sans, Arial, sans-serif" font-size="5.39" fill="#000">2019</text>
<line x1="479.0" y1="297.10" x2="490.5" y2="297.10" stroke="#000" stroke-width="1.6" stroke-linecap="butt" stroke-dasharray="3.4 3.2"/>
<text x="495" y="299.00" font-family="Liberation Sans, Arial, sans-serif" font-size="5.39" fill="#000">Mean 1981-2010</text>
<line x1="480.5" y1="303.70" x2="489.5" y2="303.70" stroke="#d3d3d3" stroke-width="6.6" stroke-linecap="round"/>
<text x="495" y="305.60" font-family="Liberation Sans, Arial, sans-serif" font-size="5.39" fill="#000">1 Standard Deviation From Mean</text>
<line x1="479.0" y1="310.30" x2="490.5" y2="310.30" stroke="#000" stroke-width="1.7" stroke-linecap="butt"/>
<text x="495" y="312.20" font-family="Liberation Sans, Arial, sans-serif" font-size="5.39" fill="#000">2018</text>
<line x1="479.0" y1="316.90" x2="490.5" y2="316.90" stroke="#ffa500" stroke-width="1.6" stroke-linecap="butt"/>
<text x="495" y="318.80" font-family="Liberation Sans, Arial, sans-serif" font-size="5.39" fill="#000">2017</text>
<line x1="479.0" y1="323.50" x2="490.5" y2="323.50" stroke="#0000ff" stroke-width="1.6" stroke-linecap="butt"/>
<text x="495" y="325.40" font-family="Liberation Sans, Arial, sans-serif" font-size="5.39" fill="#000">2016</text>
<line x1="479.0" y1="330.10" x2="490.5" y2="330.10" stroke="#00ff00" stroke-width="1.6" stroke-linecap="butt"/>
<text x="495" y="332.00" font-family="Liberation Sans, Arial, sans-serif" font-size="5.39" fill="#000">2015</text>
<line x1="479.0" y1="336.70" x2="490.5" y2="336.70" stroke="#a020f0" stroke-width="1.6" stroke-linecap="butt"/>
<text x="495" y="338.60" font-family="Liberation Sans, Arial, sans-serif" font-size="5.39" fill="#000">2014</text>
<line x1="479.0" y1="343.30" x2="490.5" y2="343.30" stroke="#ffff00" stroke-width="1.6" stroke-linecap="butt"/>
<text x="495" y="345.20" font-family="Liberation Sans, Arial, sans-serif" font-size="5.39" fill="#000">2013</text>
<line x1="479.0" y1="349.90" x2="490.5" y2="349.90" stroke="#000" stroke-width="0.5" stroke-linecap="butt" stroke-opacity="0.8"/>
<text x="495" y="351.80" font-family="Liberation Sans, Arial, sans-serif" font-size="5.39" fill="#000">Every Other Year</text>
<polyline points="474.6,290.8 478.2,291.7" fill="none" stroke="#ffa500" stroke-width="1.75" stroke-linecap="butt"/>
<g stroke="#d9d9d9" stroke-width="0.5" stroke-dasharray="1 1.6"><line x1="72.50" y1="37.0" x2="72.50" y2="356.25"/><line x1="162.70" y1="37.0" x2="162.70" y2="356.25"/><line x1="252.90" y1="37.0" x2="252.90" y2="356.25"/><line x1="343.10" y1="37.0" x2="343.10" y2="356.25"/><line x1="433.30" y1="37.0" x2="433.30" y2="356.25"/><line x1="523.50" y1="37.0" x2="523.50" y2="356.25"/><line x1="37.5" y1="344.50" x2="577.0" y2="344.50"/><line x1="37.5" y1="288.50" x2="577.0" y2="288.50"/><line x1="37.5" y1="232.50" x2="577.0" y2="232.50"/><line x1="37.5" y1="176.50" x2="577.0" y2="176.50"/><line x1="37.5" y1="120.50" x2="577.0" y2="120.50"/><line x1="37.5" y1="64.50" x2="577.0" y2="64.50"/></g>
</svg>
</body></html>
